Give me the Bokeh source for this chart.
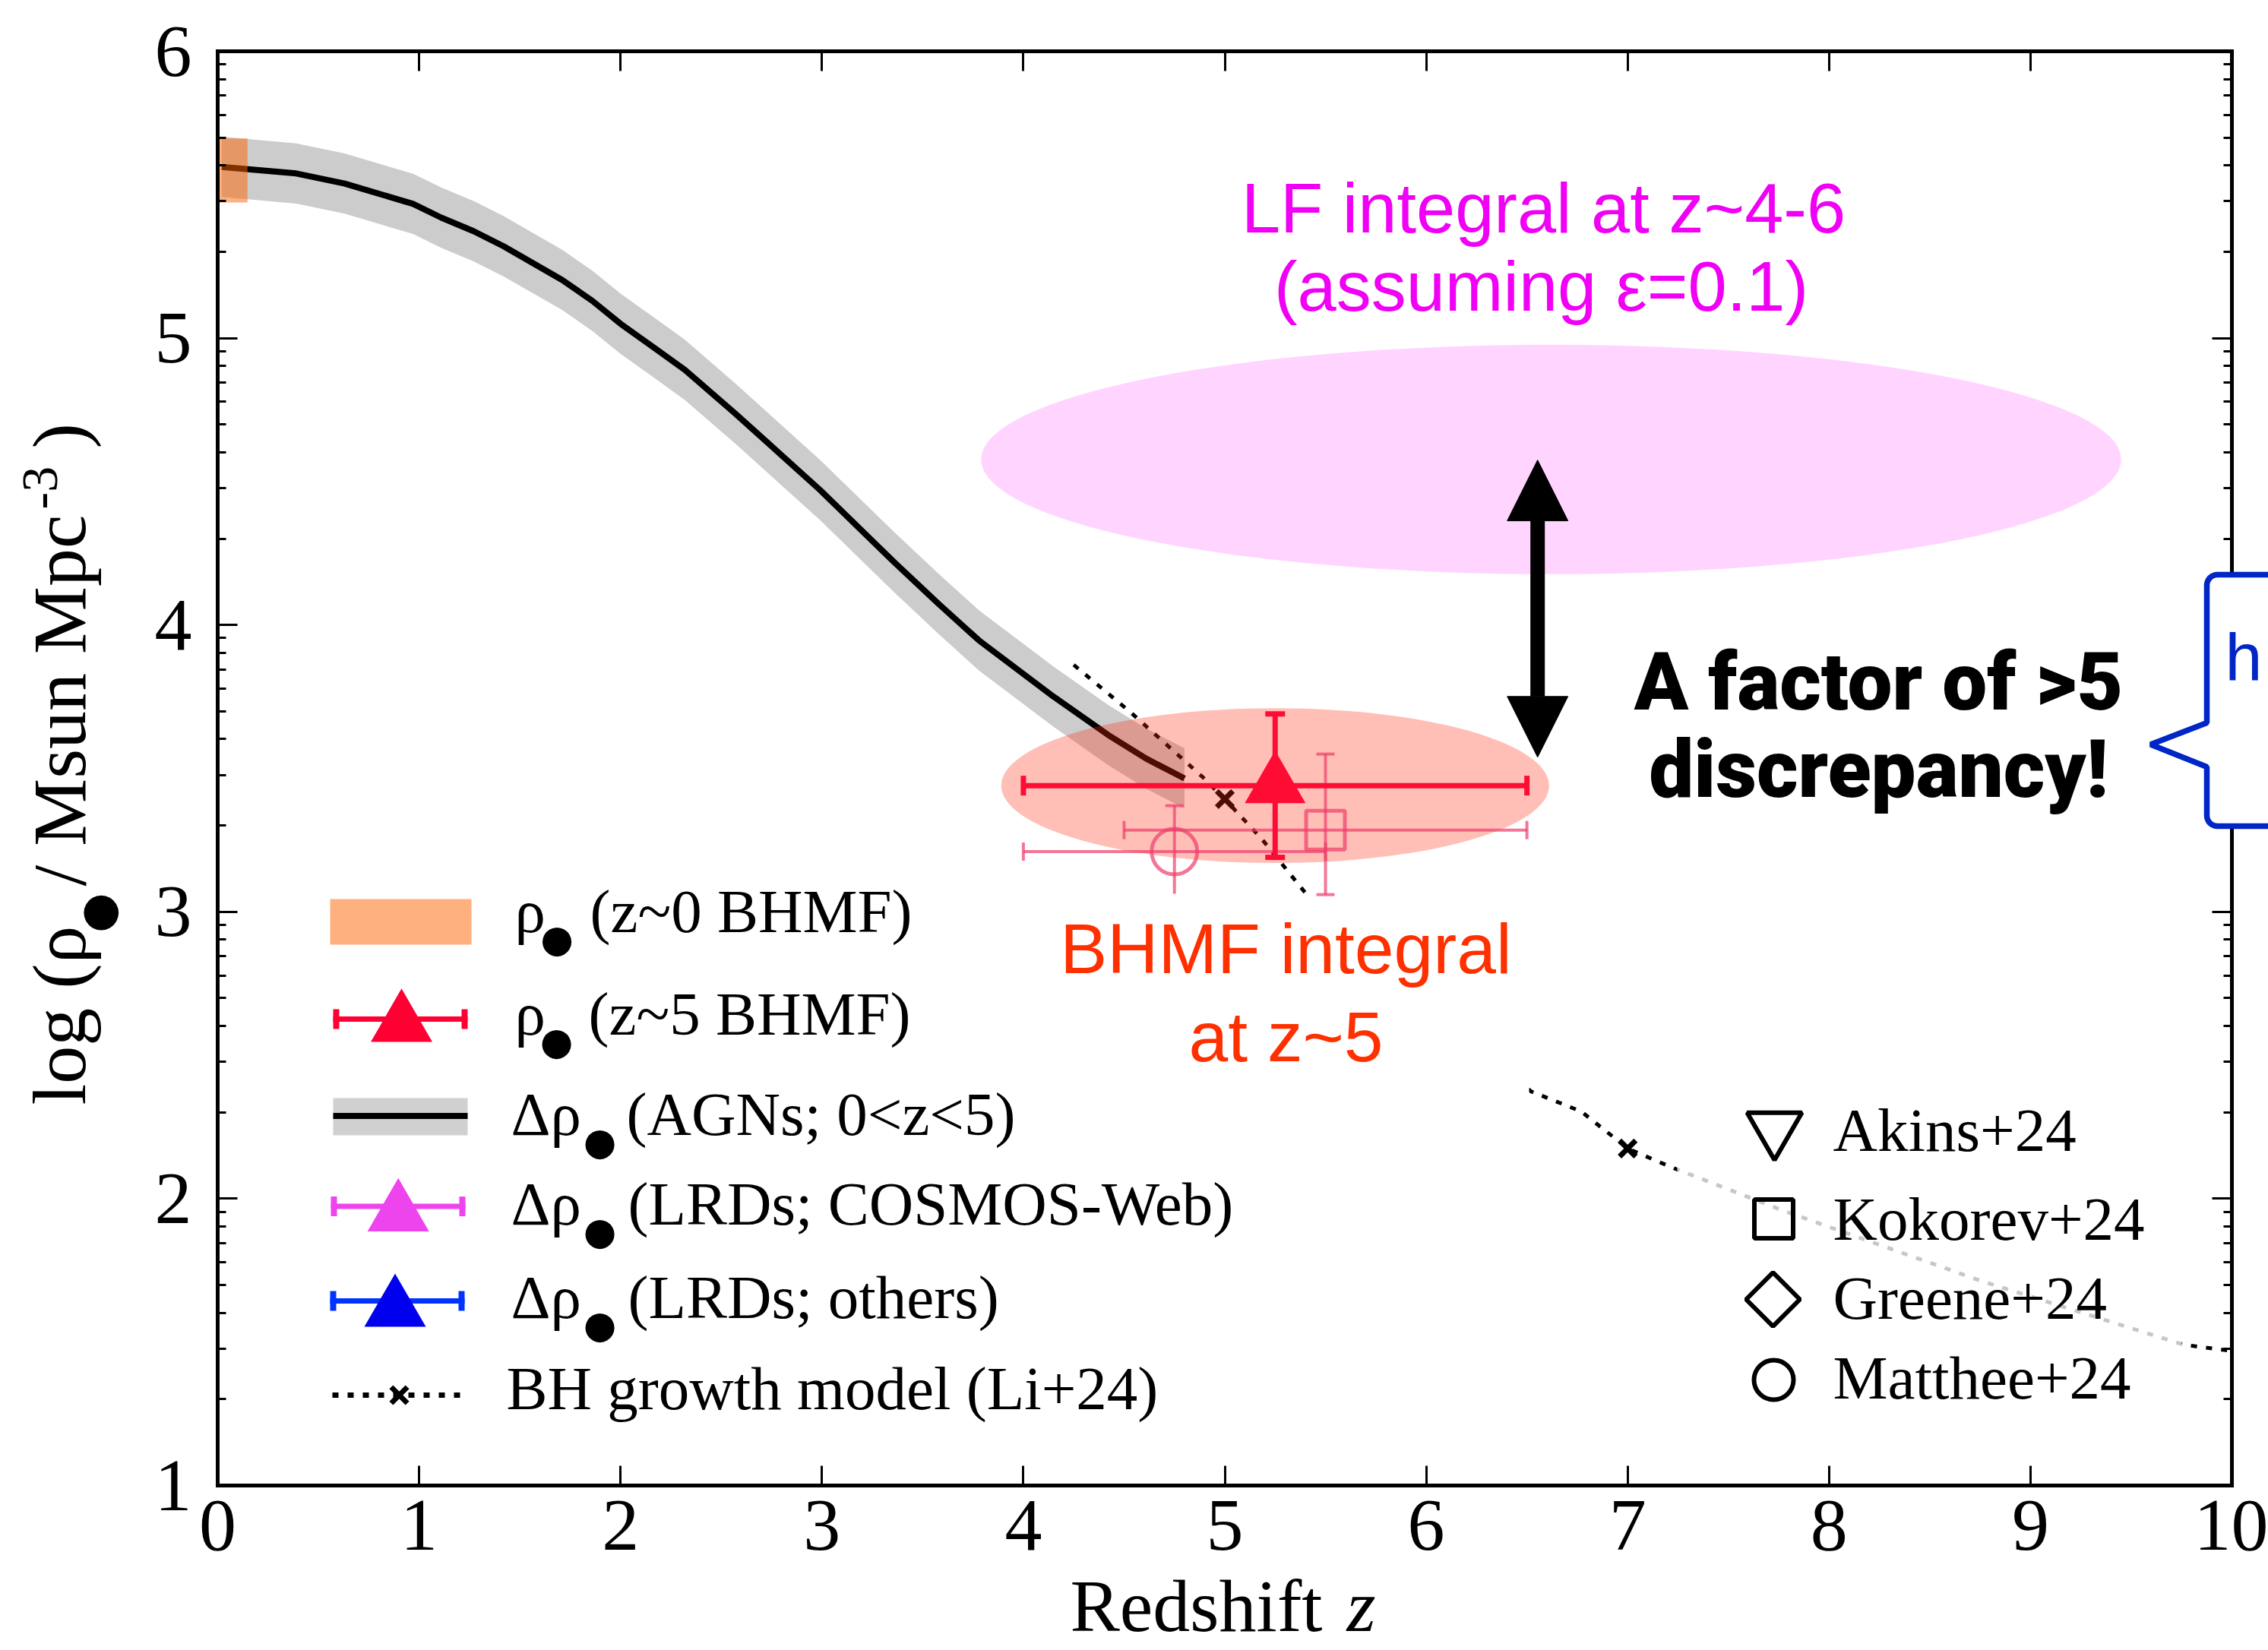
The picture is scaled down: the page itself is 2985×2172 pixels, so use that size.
import numpy as np
from bokeh.plotting import figure
from bokeh.models import Range1d, LinearAxis, FixedTicker, Arrow, NormalHead
from bokeh.core.properties import value
from bokeh.embed import file_html
from bokeh.resources import INLINE

# ---------------- data ----------------
# accumulated BH mass density from AGNs (black line with grey band)
agn_z = [0.02, 0.39, 0.63, 0.97, 1.11, 1.27, 1.42, 1.71, 1.86, 2.00, 2.18,
         2.32, 2.57, 2.99, 3.36, 3.58, 3.78, 4.15, 4.42, 4.61, 4.80]
agn_logrho = [5.597, 5.574, 5.539, 5.468, 5.420, 5.373, 5.320, 5.203, 5.130,
              5.050, 4.960, 4.889, 4.737, 4.471, 4.218, 4.073, 3.946, 3.750,
              3.617, 3.534, 3.465]
agn_band_halfwidth = 0.105

# z~0 BHMF (orange box)
z0_z = [0.0, 0.148]
z0_logrho = [5.473, 5.696]

# z~5 BHMF (red triangle)
z5_z = [5.25]
z5_logrho = [3.44]
z5_z_range = [4.0, 6.5]
z5_logrho_range = [3.19, 3.69]

# Kokorev+24 (square) and Matthee+24 (circle)
kok_z = [5.50]
kok_logrho = [3.285]
kok_z_range = [4.5, 6.5]
kok_logrho_range = [3.06, 3.55]
mat_z = [4.75]
mat_logrho = [3.21]
mat_z_range = [4.0, 5.5]
mat_logrho_range = [3.05, 3.37]

# BH growth model (Li+24)
li_z = [4.25, 4.53, 4.89, 5.00, 5.18, 5.40, 6.52, 6.77, 7.00, 7.22, 7.77,
        8.76, 9.76, 10.0]
li_logrho = [3.861, 3.697, 3.470, 3.393, 3.257, 3.066, 2.374, 2.304, 2.175,
             2.109, 1.959, 1.712, 1.491, 1.469]
li_mark_z = [5.0, 7.0]
li_mark_logrho = [3.393, 2.175]

# shaded ellipses
lf_center = [6.62, 4.577]
lf_size = [5.66, 0.80]
bhmf_center = [5.25, 3.44]
bhmf_size = [2.72, 0.54]

# discrepancy arrow
arrow_z = 6.553
arrow_logrho = [4.575, 3.539]

x_ticks = list(range(0, 11))
y_ticks = list(range(1, 7))

# ---------------- layout ----------------
W, H = 2985, 2172
FL, FR, FT, FB = 286, 2937, 67, 1955
XMIN, XMAX, YMIN, YMAX = 0.0, 10.0, 1.0, 6.0
KB = 0.37  # baseline offset (in em) of Bokeh's text anchor


def dx(px):
    return XMIN + (px - FL) / (FR - FL) * (XMAX - XMIN)


def dy(py):
    return YMIN + (FB - py) / (FB - FT) * (YMAX - YMIN)


SERIF = "Liberation Serif"
SANS = "Liberation Sans"
BOLD = "Roboto Black, Lato Heavy, Lato Black, Open Sans ExtraBold, Noto Sans Black, Liberation Sans"

p = figure(width=W, height=H, x_range=Range1d(XMIN, XMAX), y_range=Range1d(YMIN, YMAX),
           output_backend="svg", toolbar_location=None,
           min_border_left=FL, min_border_right=W - FR,
           min_border_top=FT, min_border_bottom=H - FB)
p.background_fill_color = "white"
p.border_fill_color = "white"
p.outline_line_color = None
p.xgrid.visible = False
p.ygrid.visible = False

yminor = [n + np.log10(k) for n in range(1, 6) for k in range(2, 10)]
yticker = FixedTicker(ticks=y_ticks, minor_ticks=yminor)
xticker = FixedTicker(ticks=x_ticks)

xa = p.xaxis[0]
ya = p.yaxis[0]
top_ax = LinearAxis()
right_ax = LinearAxis()
p.add_layout(top_ax, "above")
p.add_layout(right_ax, "right")

for ax in [xa, top_ax]:
    ax.ticker = xticker
    ax.minor_tick_line_color = None
for ax in [ya, right_ax]:
    ax.ticker = yticker

for ax in [xa, top_ax, ya, right_ax]:
    ax.axis_line_width = 5
    ax.axis_line_color = "black"
    ax.axis_line_cap = "square"
    ax.major_tick_in = 26
    ax.major_tick_out = 0
    ax.minor_tick_in = 11
    ax.minor_tick_out = 0
    ax.major_tick_line_width = 3
    ax.minor_tick_line_width = 3
    ax.major_label_text_font = SERIF
    ax.major_label_text_color = "black"

for ax in [top_ax, right_ax]:
    ax.major_label_text_color = None
    ax.major_label_text_font_size = "10px"
    ax.major_label_standoff = 0

xa.major_label_text_font_size = "98px"
xa.major_label_standoff = 20
ya.major_label_text_font_size = "98px"
ya.major_label_standoff = 34

# ---------------- plot content ----------------
# LF integral ellipse
p.ellipse(x=[lf_center[0]], y=[lf_center[1]], width=lf_size[0], height=lf_size[1],
          fill_color="#ffd5ff", line_color=None)

# AGN band and line
agn_lo = [v - agn_band_halfwidth for v in agn_logrho]
agn_hi = [v + agn_band_halfwidth for v in agn_logrho]
p.varea(x=agn_z, y1=agn_lo, y2=agn_hi, fill_color="#cccccc")
p.line(agn_z, agn_logrho, line_color="black", line_width=8)

# z~0 BHMF box
ORANGE = "#ff6200"
p.quad(left=[z0_z[0]], right=[z0_z[1]], bottom=[z0_logrho[0]], top=[z0_logrho[1]],
       fill_color=ORANGE, fill_alpha=0.5, line_color=None)

# Li+24 model
p.line(li_z, li_logrho, line_color="black", line_width=5, line_dash="8 12")
p.scatter(li_mark_z, li_mark_logrho, marker="x", size=30, line_color="black", line_width=7)

# BHMF ellipse
p.ellipse(x=[bhmf_center[0]], y=[bhmf_center[1]], width=bhmf_size[0], height=bhmf_size[1],
          fill_color="#ff2a10", fill_alpha=0.3, line_color=None)

PINK = "#ee3d6a"
PA = 0.7


def errbar(x, y, xr, yr, color, lw, cap, alpha=1.0):
    p.segment(x0=[xr[0]], y0=y, x1=[xr[1]], y1=y, line_color=color, line_width=lw, line_alpha=alpha)
    p.segment(x0=x, y0=[yr[0]], x1=x, y1=[yr[1]], line_color=color, line_width=lw, line_alpha=alpha)
    p.scatter(xr, [y[0], y[0]], marker="dash", angle=np.pi / 2, size=cap,
              line_color=color, line_width=lw, line_alpha=alpha)
    p.scatter([x[0], x[0]], yr, marker="dash", size=cap,
              line_color=color, line_width=lw, line_alpha=alpha)


# Matthee+24 (circle)
errbar(mat_z, mat_logrho, mat_z_range, mat_logrho_range, PINK, 4, 24, PA)
p.scatter(mat_z, mat_logrho, marker="circle", size=60, fill_color=None,
          line_color=PINK, line_alpha=PA, line_width=5)

# white box behind "BHMF integral at z~5" text
p.quad(left=[dx(1380)], right=[dx(2012)], top=[dy(1176)], bottom=[dy(1450)],
       fill_color="white", line_color=None)

# Kokorev+24 (square)
errbar(kok_z, kok_logrho, kok_z_range, kok_logrho_range, PINK, 4, 24, PA)
p.scatter(kok_z, kok_logrho, marker="square", size=51, fill_color=None,
          line_color=PINK, line_alpha=PA, line_width=5)

# z~5 BHMF (red)
RED = "#ff0c35"
errbar(z5_z, z5_logrho, z5_z_range, z5_logrho_range, RED, 7, 26)
p.scatter(z5_z, z5_logrho, marker="triangle", size=80, fill_color=RED, line_color=None)

# semi-transparent box behind right legend
p.quad(left=[dx(2207)], right=[dx(2871)], top=[dy(1440)], bottom=[dy(1872)],
       fill_color="white", fill_alpha=0.78, line_color=None)

# ---------------- right legend symbols ----------------
p.scatter([dx(2335)], [dy(1485)], marker="inverted_triangle", size=72, fill_color=None,
          line_color="black", line_width=6)
p.scatter([dx(2334)], [dy(1604)], marker="square", size=51, fill_color=None,
          line_color="black", line_width=6)
p.scatter([dx(2333)], [dy(1710)], marker="square", angle=np.pi / 4, size=50, fill_color=None,
          line_color="black", line_width=6)
p.scatter([dx(2334)], [dy(1816)], marker="circle", size=52, fill_color=None,
          line_color="black", line_width=6)

# ---------------- left legend symbols ----------------
p.quad(left=[dx(434)], right=[dx(620)], top=[dy(1183)], bottom=[dy(1243)],
       fill_color=ORANGE, fill_alpha=0.5, line_color=None)


def leg_err(y, x0, x1, xt, yt, bar_color, tri_color):
    p.segment(x0=[dx(x0)], y0=[dy(y)], x1=[dx(x1)], y1=[dy(y)], line_color=bar_color, line_width=7)
    p.scatter([dx(x0 + 4), dx(x1 - 4)], [dy(y), dy(y)], marker="dash", angle=np.pi / 2,
              size=26, line_color=bar_color, line_width=8)
    p.scatter([dx(xt)], [dy(yt)], marker="triangle", size=81, fill_color=tri_color, line_color=None)


leg_err(1341, 438, 615, 528, 1347.6, "#ff0033", "#ff0033")
p.quad(left=[dx(438)], right=[dx(615)], top=[dy(1445)], bottom=[dy(1494)],
       fill_color="#d0d0d0", line_color=None)
p.segment(x0=[dx(438)], y0=[dy(1468.4)], x1=[dx(615)], y1=[dy(1468.4)],
          line_color="black", line_width=8)
leg_err(1587.6, 435, 612, 523.7, 1597, "#ee44ee", "#ee44ee")
leg_err(1712, 434, 611, 519.5, 1722.7, "#0033ff", "#0000ee")
p.segment(x0=[dx(437)], y0=[dy(1836)], x1=[dx(608)], y1=[dy(1836)],
          line_color="black", line_width=7, line_dash="8 12")
p.scatter([dx(525)], [dy(1836)], marker="x", size=30, line_color="black", line_width=7)


# ---------------- texts ----------------
def txt(px, py, s, size, font=SERIF, color="black", align="left",
        style="normal", level="glyph", angle=0.0):
    """(px, py): start/centre of the text on its baseline, in canvas pixels."""
    if angle == 0.0:
        ax_, ay_ = px, py - KB * size
    else:  # rotated 90 deg counter-clockwise
        ax_, ay_ = px - KB * size, py
    p.text(x=[dx(ax_)], y=[dy(ay_)], text=[s], text_font=value(font),
           text_font_size=value(f"{size}px"), text_color=color,
           text_align=value(align), text_baseline=value("alphabetic"),
           text_font_style=value(style), level=level, angle=angle)


def bullet(cx, cy, size, level="glyph", angle=0.0):
    p.text(x=[dx(cx)], y=[dy(cy)], text=["●"], text_font=value("DejaVu Sans"),
           text_font_size=value(f"{size}px"), text_color="black",
           text_align=value("center"), text_baseline=value("middle"),
           level=level, angle=angle)


LF = 81
BUL = 50
rows = [
    (677, 1229.7, "ρ", 732.5, 776, "(z~0 BHMF)"),
    (677, 1364.0, "ρ", 732.0, 774, "(z~5 BHMF)"),
    (672, 1496.0, "Δρ", 789.0, 824, "(AGNs; 0<z<5)"),
    (672, 1614.0, "Δρ", 789.0, 826, "(LRDs; COSMOS-Web)"),
    (672, 1737.3, "Δρ", 789.0, 826, "(LRDs; others)"),
]
for x0, yb, sym, xb, xt, s in rows:
    txt(x0, yb, sym, LF)
    bullet(xb, yb + 6, BUL)
    txt(xt, yb, s, LF)
txt(666, 1857, "BH growth model (Li+24)", LF)

for yb, s in [(1517, "Akins+24"), (1634, "Kokorev+24"), (1738, "Greene+24"), (1843, "Matthee+24")]:
    txt(2412, yb, s, LF)

MAG = "#f000f5"
txt(2031, 308, "LF integral at z~4-6", 92, font=SANS, color=MAG, align="center")
txt(2028, 411, "(assuming ε=0.1)", 92, font=SANS, color=MAG, align="center")
BR = "#ff3000"
txt(1692, 1283, "BHMF integral", 93, font=SANS, color=BR, align="center")
txt(1692, 1399, "at z~5", 93, font=SANS, color=BR, align="center")

# ---------------- discrepancy arrow ----------------
p.add_layout(Arrow(x_start=arrow_z, y_start=arrow_logrho[0], x_end=arrow_z, y_end=arrow_logrho[1],
                   line_color="black", line_width=19,
                   start=NormalHead(size=80, fill_color="black", line_color="black", line_width=1),
                   end=NormalHead(size=80, fill_color="black", line_color="black", line_width=1)))

# ---------------- blue callout box at the right edge ----------------
BLUE = "#0026c6"
lx, ty, by, r, far = 2904, 756, 1087, 14, 3300
th = np.linspace(0, np.pi / 2, 10)
cx_pts = [far, lx + r] + list(lx + r - r * np.sin(th)) + [lx, 2830, lx] \
    + list(lx + r - r * np.cos(th)) + [far]
cy_pts = [ty, ty] + list(ty + r - r * np.cos(th)) + [951, 979.5, 1009] \
    + list(by - r + r * np.sin(th)) + [by]
p.patch([dx(v) for v in cx_pts], [dy(v) for v in cy_pts], fill_color="white",
        line_color=BLUE, line_width=7.5, level="overlay")
txt(2928, 897, "h", 88, font=SANS, color=BLUE, level="overlay")

# ---------------- axis titles (drawn in the border area) ----------------
R90 = np.pi / 2
txt(1408, 2150, "Redshift", 98, level="overlay")
txt(1772, 2150, "z", 98, style="italic", level="overlay")
txt(115, 1454, "log (ρ", 100, level="overlay", angle=R90)
bullet(127, 1201, 60, level="overlay", angle=R90)
txt(115, 1166, "/ Msun Mpc", 100, level="overlay", angle=R90)
txt(78, 670, "-3", 68, level="overlay", angle=R90)
txt(115, 590, ")", 100, level="overlay", angle=R90)

# ---------------- bold statement ----------------
txt(2472, 937, "A factor of >5", 105, font=BOLD, align="center", level="overlay")
txt(2472, 1052, "discrepancy!", 105, font=BOLD, align="center", level="overlay")

open("out.html", "w").write(file_html(p, INLINE))
